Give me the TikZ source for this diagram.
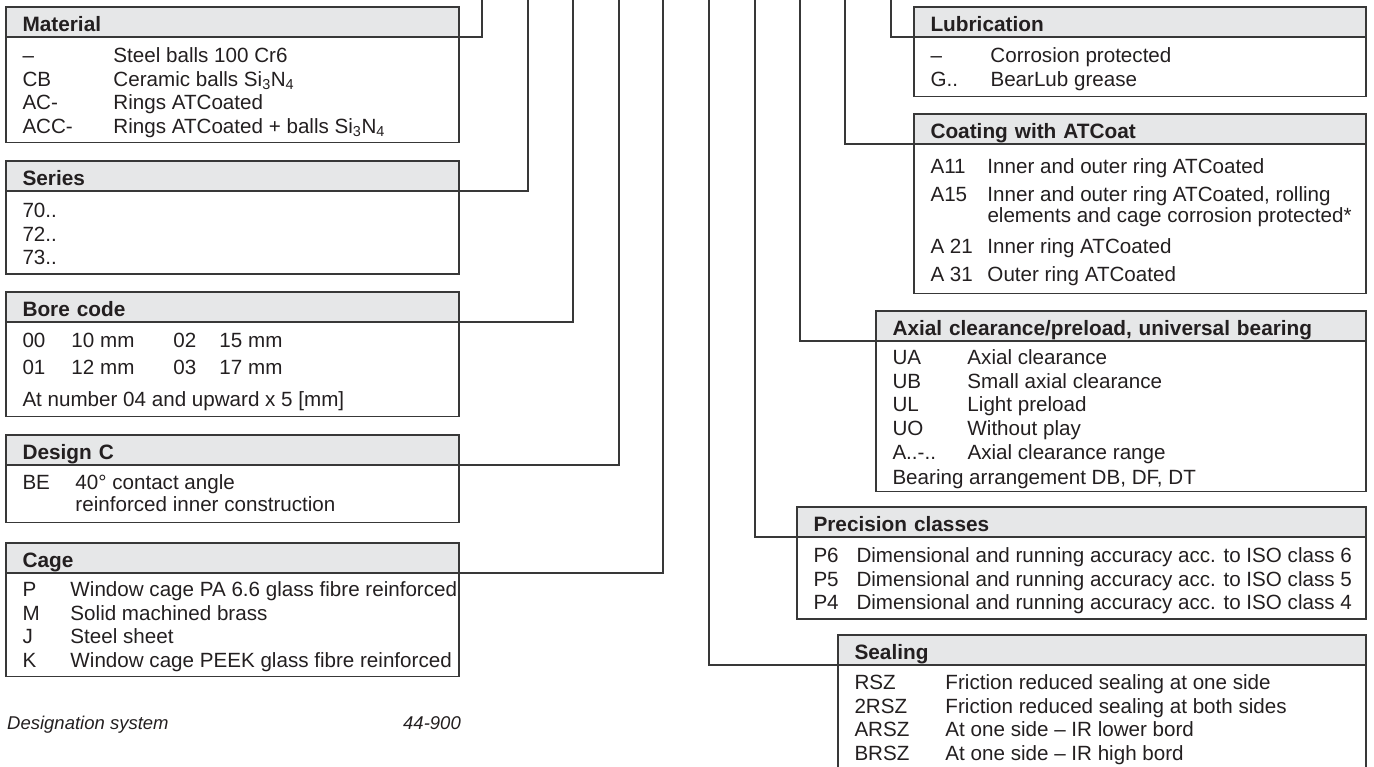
\documentclass[tikz,border=0pt]{standalone}
\usepackage{fontspec}
\setmainfont{Liberation Sans}
\usepackage{xcolor}
\usepackage{tikz}
\usetikzlibrary{positioning,fit}

\definecolor{rulegray}{HTML}{383838}
\definecolor{headfill}{HTML}{E6E7E8}
\definecolor{ink}{HTML}{231F20}

\begin{document}
\begin{tikzpicture}[x=1pt,y=-1pt]
		\tikzstyle{box_head}=[draw=rulegray, line width=1.4pt, fill=headfill, anchor=north west, outer sep=0pt, inner xsep=16.5pt, inner ysep=0pt, minimum height=30pt, text height=19pt, text depth=0pt, align=left, text=ink, font=\fontsize{20.8}{24}\selectfont\bfseries]
		\tikzstyle{box_text}=[inner sep=0pt, outer sep=0pt, text=ink, font=\fontsize{20.6}{23.7}\selectfont]
		\tikzstyle{box_frame}=[draw=rulegray, line width=1.4pt, inner sep=0pt]
		\tikzstyle{box_link}=[draw=rulegray, line width=1.4pt]
		\tikzstyle{foot_text}=[inner sep=0pt, text=ink, font=\fontsize{18.5}{22}\selectfont\itshape]

		\useasboundingbox (0,0) rectangle (1374,767);

		% left column
		\node [box_head, text width=420pt] (mat_head) at (6,7) {Material};
		\node [box_text, below right=8.9pt and 16.5pt of mat_head.south west] (mat_text)
			{\begin{tabular}{@{}p{91pt}@{}l@{}}
			– & Steel balls 100 Cr6\\
			CB & Ceramic balls Si\textsubscript{3}N\textsubscript{4}\\
			AC- & Rings ATCoated\\
			ACC- & Rings ATCoated + balls Si\textsubscript{3}N\textsubscript{4}\\[2pt]
			\end{tabular}};
		\node (mat_box) [box_frame, fit=(mat_head) (mat_text)] {};

		\node [box_head, text width=420pt] (ser_head) at (6,161) {Series};
		\node [box_text, below right=9.9pt and 16.5pt of ser_head.south west] (ser_text)
			{\begin{tabular}{@{}l@{}}
			70..\\
			72..\\
			73..\\[2pt]
			\end{tabular}};
		\node (ser_box) [box_frame, fit=(ser_head) (ser_text)] {};

		\node [box_head, text width=420pt] (bore_head) at (6,292) {Bore code};
		\node [box_text, below right=8.9pt and 16.5pt of bore_head.south west] (bore_text)
			{\begin{tabular}{@{}p{49pt}@{}p{102pt}@{}p{46pt}@{}l@{}}
			00 & 10 mm & 02 & 15 mm\\[3.3pt]
			01 & 12 mm & 03 & 17 mm\\[8.3pt]
			\multicolumn{4}{@{}l@{}}{At number 04 and upward x 5 [mm]}\\[3pt]
			\end{tabular}};
		\node (bore_box) [box_frame, fit=(bore_head) (bore_text)] {};

		\node [box_head, text width=420pt] (des_head) at (6,435) {Design C};
		\node [box_text, below right=7.9pt and 16.5pt of des_head.south west] (des_text)
			{\begin{tabular}{@{}p{53pt}@{}l@{}}
			BE & 40° contact angle\\[-2pt]
			& reinforced inner construction\\[4pt]
			\end{tabular}};
		\node (des_box) [box_frame, fit=(des_head) (des_text)] {};

		\node [box_head, text width=420pt] (cage_head) at (6,543) {Cage};
		\node [box_text, below right=6.9pt and 16.5pt of cage_head.south west] (cage_text)
			{\begin{tabular}{@{}p{48pt}@{}l@{}}
			P & Window cage PA 6.6 glass fibre reinforced\\
			M & Solid machined brass\\
			J & Steel sheet\\
			K & Window cage PEEK glass fibre reinforced\\[1.5pt]
			\end{tabular}};
		\node (cage_box) [box_frame, fit=(cage_head) (cage_text)] {};

		\node [foot_text, anchor=base west] (foot_title) at (7,729) {Designation system};
		\node [foot_text, anchor=base east] (foot_code) at (461,729) {44-900};

		% right column
		\node [box_head, text width=419pt] (lub_head) at (914,7) {Lubrication};
		\node [box_text, below right=8.9pt and 16.5pt of lub_head.south west] (lub_text)
			{\begin{tabular}{@{}p{60pt}@{}l@{}}
			– & Corrosion protected\\
			G.. & BearLub grease\\[3pt]
			\end{tabular}};
		\node (lub_box) [box_frame, fit=(lub_head) (lub_text)] {};

		\node [box_head, text width=419pt] (coat_head) at (914,114) {Coating with ATCoat};
		\node [box_text, below right=12.9pt and 16.5pt of coat_head.south west] (coat_text)
			{\begin{tabular}{@{}p{57pt}@{}l@{}}
			A11 & Inner and outer ring ATCoated\\[4.3pt]
			A15 & Inner and outer ring ATCoated, rolling\\[-2.7pt]
			& elements and cage corrosion protected*\\[7.3pt]
			A 21 & Inner ring ATCoated\\[4.3pt]
			A 31 & Outer ring ATCoated\\[5pt]
			\end{tabular}};
		\node (coat_box) [box_frame, fit=(coat_head) (coat_text)] {};

		\node [box_head, text width=457pt] (axial_head) at (876,311) {Axial clearance/preload, universal bearing};
		\node [box_text, below right=6.9pt and 16.5pt of axial_head.south west] (axial_text)
			{\begin{tabular}{@{}p{75pt}@{}l@{}}
			UA & Axial clearance\\
			UB & Small axial clearance\\
			UL & Light preload\\
			UO & Without play\\
			A..-.. & Axial clearance range\\[1.3pt]
			\multicolumn{2}{@{}l@{}}{Bearing arrangement DB, DF, DT}
			\end{tabular}};
		\node (axial_box) [box_frame, fit=(axial_head) (axial_text)] {};

		\node [box_head, text width=536pt] (prec_head) at (797,507) {Precision classes};
		\node [box_text, below right=8.9pt and 16.5pt of prec_head.south west] (prec_text)
			{\begin{tabular}{@{}p{43pt}@{}l@{}}
			P6 & Dimensional and running accuracy acc. to ISO class 6\\
			P5 & Dimensional and running accuracy acc. to ISO class 5\\
			P4 & Dimensional and running accuracy acc. to ISO class 4\\[2pt]
			\end{tabular}};
		\node (prec_box) [box_frame, fit=(prec_head) (prec_text)] {};

		\node [box_head, text width=495pt] (seal_head) at (838,635) {Sealing};
		\node [box_text, below right=7.9pt and 16.5pt of seal_head.south west] (seal_text)
			{\begin{tabular}{@{}p{91pt}@{}l@{}}
			RSZ & Friction reduced sealing at one side\\
			2RSZ & Friction reduced sealing at both sides\\
			ARSZ & At one side – IR lower bord\\
			BRSZ & At one side – IR high bord\\[14pt]
			\end{tabular}};
		\node (seal_box) [box_frame, fit=(seal_head) (seal_text)] {};

		% leader lines up to the designation
		\coordinate (mat_top) at (482,-2);
		\coordinate (ser_top) at (528,-2);
		\coordinate (bore_top) at (573,-2);
		\coordinate (des_top) at (619,-2);
		\coordinate (cage_top) at (663,-2);
		\coordinate (seal_top) at (709,-2);
		\coordinate (prec_top) at (755,-2);
		\coordinate (axial_top) at (800,-2);
		\coordinate (coat_top) at (845,-2);
		\coordinate (lub_top) at (891,-2);

		\draw [box_link] (mat_head.south east) -| (mat_top);
		\draw [box_link] (ser_head.south east) -| (ser_top);
		\draw [box_link] (bore_head.south east) -| (bore_top);
		\draw [box_link] (des_head.south east) -| (des_top);
		\draw [box_link] (cage_head.south east) -| (cage_top);
		\draw [box_link] (seal_head.south west) -| (seal_top);
		\draw [box_link] (prec_head.south west) -| (prec_top);
		\draw [box_link] (axial_head.south west) -| (axial_top);
		\draw [box_link] (coat_head.south west) -| (coat_top);
		\draw [box_link] (lub_head.south west) -| (lub_top);
\end{tikzpicture}
\end{document}
